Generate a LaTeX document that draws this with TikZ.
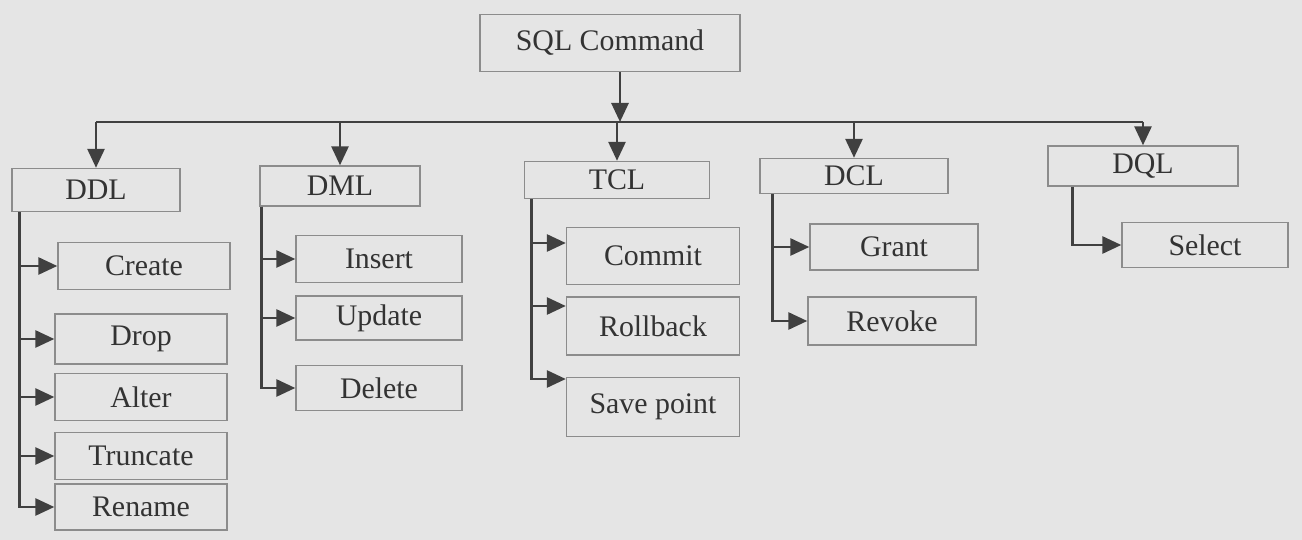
\documentclass[tikz,border=0pt]{standalone}
\usepackage{fontspec}
\setmainfont{Liberation Serif}
\usetikzlibrary{arrows.meta, positioning}

\begin{document}
\begin{tikzpicture}[
    x=0.02cm, y=-0.02cm,
    >={Triangle[length=0.38cm, width=0.34cm]},
    box/.style={draw=black!45, line width=0.8pt, text=black!80,
                font=\fontsize{17}{20}\selectfont, inner sep=2pt},
    group/.style={box, minimum width=3.36cm, minimum height=0.8cm},
    item/.style={box, minimum width=3.44cm, minimum height=0.94cm},
    link/.style={draw=black!75, line width=1.6pt}
  ]
  % page
  \fill[black!10] (0,0) rectangle (1302,540);
  \useasboundingbox (0,0) rectangle (1302,540);

  % root and groups
  \node[box, minimum width=5.2cm, minimum height=1.14cm] (sql) at (610,43)
    {SQL Command};
  \node[group, minimum height=0.86cm] (ddl) at (96,190) {DDL};
  \node[group, minimum width=3.2cm] (dml) at (340,186) {DML};
  \node[group, minimum width=3.7cm, minimum height=0.74cm] (tcl) at (617,180) {TCL};
  \node[group, minimum width=3.76cm, minimum height=0.7cm] (dcl) at (854,176) {DCL};
  \node[group, minimum width=3.8cm] (dql) at (1143,166) {DQL};

  % DDL commands
  \node[item] (create) at (144,266) {Create};
  \node[item, minimum height=1cm] (drop) at (141,339) {Drop};
  \node[item] (alter) at (141,397) {Alter};
  \node[item] (truncate) at (141,456) {Truncate};
  \node[item, minimum height=0.92cm] (rename) at (141,507) {Rename};

  % DML commands
  \node[item, minimum width=3.32cm] (insert) at (379,259) {Insert};
  \node[item, minimum width=3.32cm, minimum height=0.88cm] (update) at (379,318) {Update};
  \node[item, minimum width=3.32cm, minimum height=0.9cm] (delete) at (379,388) {Delete};

  % TCL commands
  \node[item, minimum width=3.46cm, minimum height=1.14cm] (commit) at (653,256) {Commit};
  \node[item, minimum width=3.46cm, minimum height=1.16cm] (rollback) at (653,326) {Rollback};
  \node[item, minimum width=3.46cm, minimum height=1.18cm] (savepoint) at (653,407) {Save point};

  % DCL commands
  \node[item, minimum width=3.36cm, minimum height=0.92cm] (grant) at (894,247) {Grant};
  \node[item, minimum width=3.36cm, minimum height=0.96cm] (revoke) at (892,321) {Revoke};

  % DQL command
  \node[item, minimum width=3.32cm, minimum height=0.9cm] (select) at (1205,245) {Select};

  % root to groups
  \coordinate (bus) at (620,122);
  \draw[link, ->] (sql.south -| bus) -- (bus);
  \draw[link] (ddl.north |- bus) -- (dql.north |- bus);
  \foreach \g in {ddl, dml, tcl, dcl, dql}
    \draw[link, ->] (\g.north |- bus) -- (\g.north);

  % stems
  \coordinate (ddl-s) at ([xshift=0.16cm]ddl.south west);
  \coordinate (dml-s) at ([xshift=0.05cm]dml.south west);
  \coordinate (tcl-s) at ([xshift=0.16cm]tcl.south west);
  \coordinate (dcl-s) at ([xshift=0.26cm]dcl.south west);
  \coordinate (dql-s) at ([xshift=0.5cm]dql.south west);

  \foreach \c in {create, drop, alter, truncate, rename}
    \draw[link, ->] (ddl-s) |- (\c);
  \foreach \c in {insert, update, delete}
    \draw[link, ->] (dml-s) |- (\c);
  \draw[link, ->] (tcl-s) |- ([yshift=0.26cm]commit.west);
  \draw[link, ->] (tcl-s) |- ([yshift=0.4cm]rollback.west);
  \draw[link, ->] (tcl-s) |- ([yshift=0.56cm]savepoint.west);
  \foreach \c in {grant, revoke}
    \draw[link, ->] (dcl-s) |- (\c);
  \draw[link, ->] (dql-s) |- (select);
\end{tikzpicture}
\end{document}
